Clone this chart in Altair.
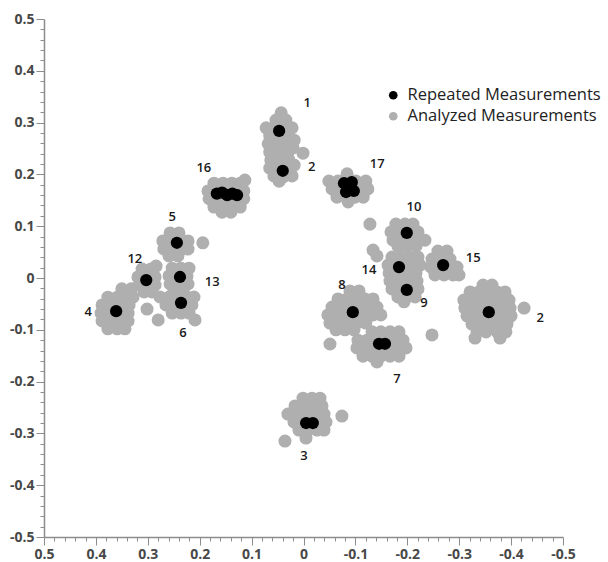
import altair as alt
import pandas as pd

# ---------------- data ----------------
# grey "Analyzed Measurements" points, one small array per cluster (x, y)
gray_1_2 = [(0.043, 0.319), (0.053, 0.305), (0.034, 0.305), (0.072, 0.290), (0.057, 0.290),
            (0.038, 0.290), (0.022, 0.290), (0.065, 0.274), (0.047, 0.274), (0.030, 0.274),
            (0.018, 0.266), (0.068, 0.259), (0.051, 0.259), (0.034, 0.259), (0.020, 0.251),
            (0.065, 0.243), (0.047, 0.243), (0.030, 0.243), (0.063, 0.228), (0.045, 0.228),
            (0.028, 0.228), (0.018, 0.218), (0.065, 0.212), (0.047, 0.212), (0.030, 0.212),
            (0.057, 0.197), (0.039, 0.195), (0.022, 0.197), (0.047, 0.187), (0.001, 0.241)]
gray_16 = [(0.1725, 0.183), (0.155, 0.183), (0.138, 0.183), (0.122, 0.183), (0.113, 0.189),
           (0.184, 0.168), (0.167, 0.168), (0.149, 0.168), (0.132, 0.168), (0.115, 0.168),
           (0.182, 0.153), (0.165, 0.153), (0.147, 0.153), (0.130, 0.153), (0.115, 0.153),
           (0.1725, 0.137), (0.155, 0.137), (0.138, 0.137), (0.122, 0.137),
           (0.157, 0.127), (0.140, 0.127)]
gray_17 = [(-0.084, 0.201),
           (-0.049, 0.187), (-0.0665, 0.187), (-0.084, 0.187), (-0.101, 0.187), (-0.120, 0.187),
           (-0.055, 0.172), (-0.072, 0.172), (-0.090, 0.172), (-0.107, 0.172), (-0.124, 0.172),
           (-0.0645, 0.156), (-0.082, 0.156), (-0.099, 0.156), (-0.115, 0.156),
           (-0.086, 0.147)]
gray_5 = [(0.257, 0.087), (0.240, 0.087),
          (0.271, 0.0715), (0.253, 0.0715), (0.236, 0.0715), (0.2225, 0.0715),
          (0.269, 0.056), (0.2515, 0.056), (0.234, 0.056), (0.2225, 0.056),
          (0.259, 0.0425), (0.242, 0.0425), (0.194, 0.068)]
gray_12 = [(0.311, 0.0174), (0.294, 0.0174), (0.284, 0.023),
           (0.319, 0.002), (0.3015, 0.002), (0.286, 0.002),
           (0.317, -0.0135), (0.2995, -0.0135), (0.286, -0.0135),
           (0.307, -0.027), (0.292, -0.027)]
gray_13 = [(0.253, 0.019), (0.236, 0.019), (0.2206, 0.019),
           (0.259, 0.004), (0.242, 0.004), (0.2245, 0.004),
           (0.257, -0.0116), (0.240, -0.0116), (0.2225, -0.0116),
           (0.2495, -0.025), (0.232, -0.025)]
gray_6 = [(0.2765, -0.0367), (0.259, -0.0367), (0.242, -0.0367), (0.2245, -0.0367), (0.211, -0.0367),
          (0.265, -0.052), (0.2476, -0.052), (0.230, -0.052), (0.215, -0.052),
          (0.253, -0.0676), (0.236, -0.0676), (0.2206, -0.0676),
          (0.280, -0.081), (0.3015, -0.060), (0.209, -0.081)]
gray_4 = [(0.350, -0.021), (0.332, -0.021),
          (0.377, -0.037), (0.359, -0.037), (0.342, -0.037), (0.3285, -0.037),
          (0.388, -0.052), (0.371, -0.052), (0.3536, -0.052), (0.336, -0.052),
          (0.390, -0.068), (0.373, -0.068), (0.3555, -0.068), (0.338, -0.068),
          (0.388, -0.083), (0.371, -0.083), (0.3536, -0.083), (0.338, -0.083),
          (0.377, -0.098), (0.359, -0.098), (0.344, -0.098)]
gray_10 = [(-0.178, 0.104), (-0.1956, 0.104), (-0.211, 0.104),
           (-0.1686, 0.089), (-0.186, 0.089), (-0.203, 0.089), (-0.2206, 0.089),
           (-0.1725, 0.073), (-0.190, 0.073), (-0.207, 0.073), (-0.2245, 0.073), (-0.234, 0.073),
           (-0.182, 0.062), (-0.1994, 0.062), (-0.2168, 0.062),
           (-0.128, 0.104), (-0.134, 0.054), (-0.1416, 0.0425)]
gray_14_9 = [(-0.1705, 0.0405), (-0.188, 0.0405), (-0.205, 0.0405), (-0.2206, 0.0405),
             (-0.163, 0.025), (-0.180, 0.025), (-0.1975, 0.025), (-0.215, 0.025), (-0.2245, 0.025),
             (-0.165, 0.0097), (-0.182, 0.0097), (-0.1994, 0.0097), (-0.2168, 0.0097),
             (-0.1667, -0.0058), (-0.184, -0.0058), (-0.201, -0.0058), (-0.2187, -0.0058),
             (-0.1705, -0.021), (-0.188, -0.021), (-0.205, -0.021), (-0.2206, -0.021),
             (-0.182, -0.0367), (-0.1994, -0.0367), (-0.215, -0.0367),
             (-0.1937, -0.046)]
gray_15 = [(-0.259, 0.052), (-0.2765, 0.052),
           (-0.2476, 0.0367), (-0.265, 0.0367), (-0.2823, 0.0367),
           (-0.2457, 0.021), (-0.263, 0.021), (-0.280, 0.021), (-0.2958, 0.021),
           (-0.2534, 0.0058), (-0.2707, 0.0058), (-0.288, 0.0058), (-0.2996, 0.0058)]
gray_2r = [(-0.346, -0.0135), (-0.3632, -0.0135),
           (-0.321, -0.027), (-0.338, -0.027), (-0.3555, -0.027), (-0.373, -0.027), (-0.3883, -0.027),
           (-0.309, -0.0425), (-0.3266, -0.0425), (-0.344, -0.0425), (-0.3613, -0.0425), (-0.3787, -0.0425), (-0.396, -0.0425),
           (-0.311, -0.058), (-0.3286, -0.058), (-0.346, -0.058), (-0.3632, -0.058), (-0.3806, -0.058), (-0.398, -0.058),
           (-0.315, -0.073), (-0.3324, -0.073), (-0.350, -0.073), (-0.367, -0.073), (-0.3844, -0.073), (-0.400, -0.073),
           (-0.3247, -0.089), (-0.342, -0.089), (-0.3594, -0.089), (-0.3767, -0.089), (-0.392, -0.089),
           (-0.3343, -0.104), (-0.3517, -0.104), (-0.373, -0.104), (-0.390, -0.104),
           (-0.3305, -0.116), (-0.3787, -0.116), (-0.425, -0.058)]
gray_8 = [(-0.0896, -0.025), (-0.107, -0.025),
          (-0.0665, -0.0405), (-0.0838, -0.0405), (-0.101, -0.0405), (-0.1185, -0.0405), (-0.134, -0.0405),
          (-0.055, -0.056), (-0.0723, -0.056), (-0.0896, -0.056), (-0.107, -0.056), (-0.124, -0.056), (-0.1416, -0.056),
          (-0.047, -0.0714), (-0.0646, -0.0714), (-0.082, -0.0714), (-0.0992, -0.0714), (-0.1166, -0.0714), (-0.134, -0.0714), (-0.149, -0.0714),
          (-0.051, -0.0869), (-0.0684, -0.0869), (-0.0858, -0.0869), (-0.103, -0.0869), (-0.120, -0.0869),
          (-0.0626, -0.100), (-0.080, -0.100), (-0.0973, -0.100), (-0.051, -0.1274)]
gray_7 = [(-0.132, -0.104), (-0.149, -0.104), (-0.1667, -0.104), (-0.184, -0.104),
          (-0.105, -0.120), (-0.1224, -0.120), (-0.140, -0.120), (-0.157, -0.120), (-0.1744, -0.120), (-0.1917, -0.120),
          (-0.103, -0.135), (-0.120, -0.135), (-0.1378, -0.135), (-0.155, -0.135), (-0.1725, -0.135), (-0.190, -0.135), (-0.1975, -0.135),
          (-0.1147, -0.151), (-0.132, -0.151), (-0.149, -0.151), (-0.1667, -0.151), (-0.184, -0.151),
          (-0.1416, -0.162), (-0.2476, -0.110)]
gray_3 = [(0.001, -0.232), (-0.0164, -0.232), (-0.0318, -0.232),
          (0.0164, -0.247), (-0.001, -0.247), (-0.0183, -0.247), (-0.0356, -0.247),
          (0.030, -0.2626), (0.0125, -0.2626), (-0.0048, -0.2626), (-0.022, -0.2626), (-0.0395, -0.2626),
          (0.0183, -0.278), (0.001, -0.278), (-0.0164, -0.278), (-0.0337, -0.278), (-0.0434, -0.278),
          (0.0087, -0.2935), (-0.0087, -0.2935), (-0.026, -0.2935), (-0.0395, -0.2935),
          (-0.0048, -0.309), (-0.074, -0.2665), (0.0357, -0.3148)]

# black "Repeated Measurements" points
black_x = [0.047, 0.040,
           0.167, 0.157, 0.147, 0.137, 0.128,
           -0.078, -0.093, -0.082, -0.097, -0.088,
           0.244, 0.303, 0.238, 0.236, 0.361,
           -0.199, -0.184, -0.199, -0.269, -0.357, -0.095,
           -0.1455, -0.157, -0.005, -0.018]
black_y = [0.284, 0.207,
           0.163, 0.165, 0.160, 0.163, 0.160,
           0.183, 0.185, 0.166, 0.168, 0.176,
           0.068, -0.004, 0.002, -0.048, -0.064,
           0.087, 0.021, -0.023, 0.025, -0.066, -0.066,
           -0.127, -0.127, -0.280, -0.280]

# cluster number labels
label_text = ["1", "2", "16", "17", "5", "12", "13", "6", "4",
              "10", "14", "9", "15", "2", "8", "7", "3"]
label_x = [-0.007, -0.016, 0.192, -0.142, 0.253, 0.325, 0.176, 0.232, 0.415,
           -0.213, -0.126, -0.232, -0.327, -0.456, -0.074, -0.180, -0.001]
label_y = [0.338, 0.214, 0.212, 0.220, 0.118, 0.037, -0.008, -0.106, -0.066,
           0.137, 0.015, -0.048, 0.039, -0.077, -0.014, -0.195, -0.344]

series_names = ["Repeated Measurements", "Analyzed Measurements"]
tick_values = [round(-0.5 + 0.02 * i, 2) for i in range(51)]

# ---------------- build tables ----------------
gray_clusters = [gray_1_2, gray_16, gray_17, gray_5, gray_12, gray_13, gray_6, gray_4,
                 gray_10, gray_14_9, gray_15, gray_2r, gray_8, gray_7, gray_3]
gray_rows = [{"x": px, "y": py, "kind": series_names[1]} for pts in gray_clusters for px, py in pts]
gray_df = pd.DataFrame(gray_rows)
black_df = pd.DataFrame({"x": black_x, "y": black_y, "kind": series_names[0]})
label_df = pd.DataFrame({"label": label_text, "x": label_x, "y": label_y})

GRAY = "#afafaf"
AXIS_GRAY = "#8c8c8c"
FONT = "Open Sans"
major = "abs(round(datum.value*50)) % 5 == 0"
label_expr = f"{major} ? toString(round(datum.value*10)/10) : ''"


def make_axis():
    return alt.Axis(values=tick_values, title=None, grid=False, labelExpr=label_expr,
                    tickSize={"condition": {"test": major, "value": 8}, "value": 4},
                    labelOverlap=False, labelFlush=False, domainColor=AXIS_GRAY,
                    tickColor=AXIS_GRAY, domainWidth=1.5, tickWidth=1,
                    labelColor="#484848", labelFont=FONT, labelFontSize=14,
                    labelFontWeight="bold", labelPadding=2)


x_enc = alt.X("x:Q", scale=alt.Scale(domain=[-0.5, 0.5], reverse=True, nice=False), axis=make_axis())
y_enc = alt.Y("y:Q", scale=alt.Scale(domain=[-0.5, 0.5], nice=False), axis=make_axis())
color_enc = alt.Color("kind:N",
                      scale=alt.Scale(domain=series_names, range=["#000000", GRAY]),
                      legend=alt.Legend(title=None, orient="none", legendX=341, legendY=68,
                                        symbolType="circle", symbolSize=75, symbolOpacity=1,
                                        symbolStrokeWidth=0, labelFont=FONT, labelFontSize=16.5,
                                        labelColor="#222222", labelOffset=6, rowPadding=4,
                                        labelLimit=0, padding=0))

gray = alt.Chart(gray_df).mark_circle(size=170, opacity=1).encode(x=x_enc, y=y_enc, color=color_enc)
black = alt.Chart(black_df).mark_circle(size=150, opacity=1).encode(x=x_enc, y=y_enc, color=color_enc)
labels = alt.Chart(label_df).mark_text(font=FONT, fontSize=13, fontWeight=600, color="#1a1a1a",
                                       align="center", baseline="middle").encode(
    x=x_enc, y=y_enc, text="label:N")

chart = alt.layer(gray, black, labels).properties(
    width=519, height=518,
    padding={"left": 44, "top": 19, "right": 45, "bottom": 25},
    autosize=alt.AutoSizeParams(type="none"),
    background="white",
).configure_view(stroke=None)

chart.save("out.html", embed_options={"renderer": "svg", "actions": False})
